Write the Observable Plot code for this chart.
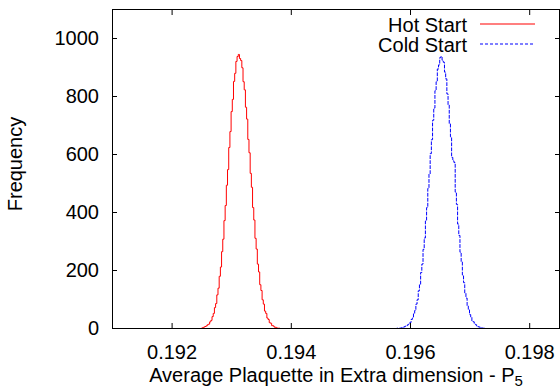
<!DOCTYPE html>
<html><head><meta charset="utf-8">
<script src="https://cdn.jsdelivr.net/npm/d3@7"></script>
<script src="https://cdn.jsdelivr.net/npm/@observablehq/plot@0.6"></script>
<style>body{margin:0;background:#fff} svg{display:block}</style>
</head><body><div id="chart"></div>
<script>
// Histogram bins (bin width and first bin centre) and counts
const binWidth = 0.00002;
const hotStart = 0.19248;
const hotCounts = [0,1,3,5,7,9,13,15,23,28,41,52,72,86,116,139,180,212,265,308,372,424,494,548,624,679,748,790,852,880,921,938,945,931,924,899,851,823,763,722,652,606,535,487,417,374,311,274,222,195,151,131,99,84,60,52,36,31,20,18,10,9,5,4,2,1,1,0];
const coldStart = 0.19576;
const coldCounts = [0,1,0,2,1,3,4,6,8,10,13,17,21,31,36,52,62,84,99,130,152,193,222,273,312,371,417,483,532,603,651,718,760,820,851,895,909,934,938,925,918,884,861,809,772,706,661,590,578,572,470,428,360,321,263,231,184,158,123,105,78,66,48,40,27,23,15,13,8,6,5,3,2,1,1,0];
const seriesNames = ["Hot Start", "Cold Start"];
const xTicks = [0.192, 0.194, 0.196, 0.198];
const yTicks = [0, 200, 400, 600, 800, 1000];
const xLabel = "Average Plaquette in Extra dimension - P";
const xLabelSub = "5";
const yLabel = "Frequency";

const hot = hotCounts.map((c, i) => ({x: hotStart + i * binWidth, y: c}));
const cold = coldCounts.map((c, i) => ({x: coldStart + i * binWidth, y: c}));

const FONT = "'Liberation Sans', Arial, Helvetica, sans-serif";
const plot = Plot.plot({
  width: 560, height: 390,
  marginLeft: 112, marginRight: 1, marginTop: 9, marginBottom: 62,
  style: {fontFamily: FONT, fontSize: "20px", background: "#fff", color: "#000"},
  x: {domain: [0.191, 0.1985]},
  y: {domain: [0, 1100]},
  marks: [
    Plot.line(hot, {x: "x", y: "y", stroke: "#ff0000", strokeWidth: 1, curve: "step"}),
    Plot.line(cold, {x: "x", y: "y", stroke: "#0000ff", strokeWidth: 1, strokeDasharray: "3,2", curve: "step"}),
    Plot.axisX({anchor: "bottom", ticks: xTicks, tickFormat: d3.format(".3f"), tickSize: -5, tickPadding: 21, label: null}),
    Plot.axisX({anchor: "top", ticks: xTicks, tickFormat: () => "", tickSize: -5, label: null}),
    Plot.axisY({anchor: "left", ticks: yTicks, tickFormat: d3.format("d"), tickSize: -5, tickPadding: 18.5, label: null}),
    Plot.axisY({anchor: "right", ticks: yTicks, tickFormat: () => "", tickSize: -5, label: null}),
    Plot.frame({stroke: "#000", strokeWidth: 1})
  ]
});

const svg = d3.select(plot);
const g = svg.append("g").attr("font-family", FONT).attr("font-size", 20).attr("fill", "#000");
// legend
const legendColors = ["#ff0000", "#0000ff"];
const legendDash = [null, "3,2"];
seriesNames.forEach((name, i) => {
  g.append("text").attr("x", 467).attr("y", 31.5 + i * 20).attr("text-anchor", "end").text(name);
  g.append("line").attr("x1", 480).attr("x2", 535).attr("y1", 24 + i * 20).attr("y2", 24 + i * 20)
    .attr("stroke", legendColors[i]).attr("stroke-width", 1.2).attr("stroke-dasharray", legendDash[i]);
});
// axis titles
const xt = g.append("text").attr("x", 336).attr("y", 382).attr("text-anchor", "middle");
xt.append("tspan").text(xLabel);
xt.append("tspan").attr("dy", 4).attr("font-size", 15).text(xLabelSub);
g.append("text").attr("transform", "translate(22,164) rotate(-90)").attr("text-anchor", "middle").text(yLabel);

document.getElementById("chart").appendChild(plot);
</script>
</body></html>
